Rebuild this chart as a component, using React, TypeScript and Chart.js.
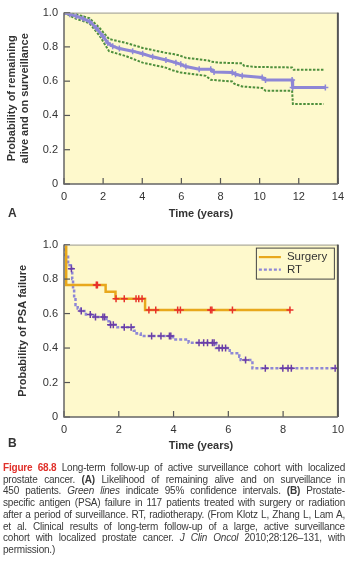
import React, { useEffect, useRef } from "react";
import { Chart, registerables } from "chart.js";

Chart.register(...registerables);

// ---------- Panel A data ----------
const xTicksA = [0, 2, 4, 6, 8, 10, 12, 14];
const yTicks = [0, 0.2, 0.4, 0.6, 0.8, 1.0];

const mainX = [0, 0.3, 0.63, 0.97, 1.31, 1.65, 1.99, 2.24, 2.49, 2.83, 3.51, 4.02, 4.53, 5.21, 5.72, 5.97, 6.23, 6.91, 7.5, 7.67, 8.6, 8.77, 9.11, 10.13, 10.3, 11.66, 11.69, 13.36];
const mainY = [1.0, 0.99, 0.978, 0.965, 0.948, 0.91, 0.862, 0.823, 0.804, 0.79, 0.775, 0.76, 0.742, 0.723, 0.708, 0.698, 0.685, 0.669, 0.669, 0.654, 0.65, 0.64, 0.631, 0.621, 0.607, 0.607, 0.563, 0.563];

const upX = [0, 0.63, 1.3, 1.82, 2.3, 3.17, 4.02, 5.2, 5.6, 5.9, 6.23, 7.4, 7.5, 7.93, 9.1, 9.2, 9.8, 11.66, 11.74, 13.27];
const upY = [1.0, 0.99, 0.967, 0.91, 0.846, 0.823, 0.794, 0.765, 0.758, 0.75, 0.736, 0.72, 0.714, 0.708, 0.704, 0.69, 0.683, 0.68, 0.666, 0.666];

const loX = [0, 0.63, 1.3, 1.82, 2.3, 3.17, 4.02, 5.2, 5.5, 5.97, 7.25, 7.5, 8.6, 8.7, 9.1, 10.13, 10.3, 11.66, 11.7, 13.27];
const loY = [1.0, 0.963, 0.938, 0.865, 0.775, 0.746, 0.708, 0.679, 0.665, 0.65, 0.631, 0.608, 0.598, 0.585, 0.569, 0.56, 0.544, 0.544, 0.467, 0.467];

// ---------- Panel B data ----------
const xTicksB = [0, 2, 4, 6, 8, 10];
const seriesNamesB = ["Surgery", "RT"];

const surgX = [0, 0.08, 1.52, 1.88, 2.96, 8.27];
const surgY = [1.0, 0.765, 0.727, 0.686, 0.62, 0.62];
const surgCX = [1.18, 1.22, 1.9, 2.2, 2.63, 2.73, 2.85, 3.1, 3.35, 4.15, 4.25, 5.35, 5.4, 6.15, 8.25];
const surgCY = [0.765, 0.765, 0.686, 0.686, 0.686, 0.686, 0.686, 0.62, 0.62, 0.62, 0.62, 0.62, 0.62, 0.62, 0.62];

const rtX = [0, 0.05, 0.15, 0.25, 0.3, 0.33, 0.37, 0.42, 0.5, 0.6, 0.8, 1.1, 1.55, 1.65, 1.95, 2.55, 2.65, 2.8, 3.98, 4.55, 5.55, 6.05, 6.4, 6.45, 6.88, 9.95];
const rtY = [1.0, 0.93, 0.88, 0.86, 0.8, 0.74, 0.69, 0.65, 0.63, 0.615, 0.595, 0.58, 0.555, 0.535, 0.52, 0.5, 0.485, 0.47, 0.45, 0.43, 0.4, 0.37, 0.35, 0.33, 0.283, 0.283];
const rtCX = [0.27, 0.63, 0.96, 1.15, 1.42, 1.48, 1.7, 1.8, 2.2, 2.45, 3.2, 3.54, 3.85, 3.9, 4.93, 5.1, 5.24, 5.42, 5.48, 5.66, 5.78, 5.9, 6.63, 7.35, 7.99, 8.18, 8.3, 9.9];
const rtCY = [0.86, 0.615, 0.595, 0.58, 0.58, 0.58, 0.535, 0.535, 0.52, 0.52, 0.47, 0.47, 0.47, 0.47, 0.43, 0.43, 0.43, 0.43, 0.43, 0.4, 0.4, 0.4, 0.33, 0.283, 0.283, 0.283, 0.283, 0.283];

// ---------- styles ----------
const FONT = "'Liberation Sans', Arial, Helvetica, sans-serif";
const PLOT_BG = "#fef9cc";
const PURPLE = "#8e87d6";
const GREEN = "#4e8f3c";
const ORANGE = "#e8a81c";
const RED = "#e8312b";
const DARK_PURPLE = "#6a3ea6";
const TEXT = "#333333";

const pts = (xs: number[], ys: number[]) => xs.map((x, i) => ({ x, y: ys[i] }));

const framePlugin = {
  id: "frame",
  beforeDatasetsDraw(chart: any) {
    const { ctx, chartArea: a } = chart;
    ctx.save();
    ctx.fillStyle = PLOT_BG;
    ctx.fillRect(a.left, a.top, a.right - a.left, a.bottom - a.top);
    ctx.restore();
  },
  afterDatasetsDraw(chart: any) {
    const { ctx, chartArea: a } = chart;
    ctx.save();
    ctx.strokeStyle = "#555";
    ctx.lineWidth = 1.2;
    const xs = chart.scales.x;
    const ys = chart.scales.y;
    xs.ticks.forEach((t: any) => {
      const px = xs.getPixelForValue(t.value);
      ctx.beginPath();
      ctx.moveTo(px, a.bottom);
      ctx.lineTo(px, a.bottom - 6);
      ctx.stroke();
    });
    ys.ticks.forEach((t: any) => {
      const py = ys.getPixelForValue(t.value);
      ctx.beginPath();
      ctx.moveTo(a.left, py);
      ctx.lineTo(a.left + 6, py);
      ctx.stroke();
    });
    ctx.strokeStyle = "#999";
    ctx.lineWidth = 1;
    ctx.beginPath();
    ctx.moveTo(a.left, a.top + 0.5);
    ctx.lineTo(a.right, a.top + 0.5);
    ctx.stroke();
    ctx.strokeStyle = "#555";
    ctx.lineWidth = 2;
    ctx.beginPath();
    ctx.moveTo(a.right, a.top);
    ctx.lineTo(a.right, a.bottom);
    ctx.stroke();
    ctx.strokeStyle = "#666";
    ctx.lineWidth = 1.5;
    ctx.beginPath();
    ctx.moveTo(a.left, a.top);
    ctx.lineTo(a.left, a.bottom);
    ctx.lineTo(a.right, a.bottom);
    ctx.stroke();
    ctx.restore();
  },
};

const boxLegendPlugin = {
  id: "boxLegend",
  afterDraw(chart: any) {
    const opts = chart.options.plugins.boxLegend;
    if (!opts || !opts.display) return;
    const { ctx, chartArea: a } = chart;
    const items = chart.data.datasets.filter((d: any) => d.inLegend);
    const x0 = a.right - 82;
    const y0 = a.top + 3;
    const w = 78;
    const h = 31;
    ctx.save();
    ctx.fillStyle = PLOT_BG;
    ctx.fillRect(x0, y0, w, h);
    ctx.strokeStyle = "#444";
    ctx.lineWidth = 1;
    ctx.strokeRect(x0 + 0.5, y0 + 0.5, w, h);
    items.forEach((d: any, i: number) => {
      const cy = y0 + 9.5 + i * 12.5;
      ctx.strokeStyle = d.borderColor;
      ctx.lineWidth = 2.2;
      ctx.setLineDash(d.borderDash || []);
      ctx.beginPath();
      ctx.moveTo(x0 + 3, cy);
      ctx.lineTo(x0 + 25, cy);
      ctx.stroke();
      ctx.setLineDash([]);
      ctx.fillStyle = TEXT;
      ctx.font = `11.5px ${FONT}`;
      ctx.textBaseline = "middle";
      ctx.textAlign = "left";
      ctx.fillText(d.label, x0 + 31, cy);
    });
    ctx.restore();
  },
};

function makeOptions(
  xMax: number,
  xTicks: number[],
  yTitle: string | string[],
  yTitlePad: number,
  yWidth: number,
  xHeight: number,
  padTop: number,
  padRight: number,
  legend: boolean
): any {
  return {
    responsive: false,
    animation: false,
    events: [],
    layout: { padding: { top: padTop, right: padRight, left: 0, bottom: 0 } },
    plugins: {
      legend: { display: false },
      tooltip: { enabled: false },
      boxLegend: { display: legend },
    },
    scales: {
      x: {
        type: "linear",
        min: 0,
        max: xMax,
        afterBuildTicks: (s: any) => {
          s.ticks = xTicks.map((v) => ({ value: v }));
        },
        afterFit: (s: any) => {
          s.height = xHeight;
        },
        grid: { display: false, drawTicks: false },
        border: { display: false },
        ticks: {
          color: TEXT,
          font: { family: FONT, size: 11 },
          padding: 6,
          maxRotation: 0,
          autoSkip: false,
          callback: (v: any) => String(v),
        },
        title: {
          display: true,
          text: "Time (years)",
          color: TEXT,
          font: { family: FONT, size: 11, weight: "bold" },
          padding: { top: 0, bottom: 4 },
        },
      },
      y: {
        type: "linear",
        min: 0,
        max: 1,
        afterBuildTicks: (s: any) => {
          s.ticks = yTicks.map((v) => ({ value: v }));
        },
        afterFit: (s: any) => {
          s.width = yWidth;
        },
        grid: { display: false, drawTicks: false },
        border: { display: false },
        ticks: {
          color: TEXT,
          font: { family: FONT, size: 11 },
          padding: 6,
          autoSkip: false,
          callback: (v: any) => (v === 0 ? "0" : Number(v).toFixed(1)),
        },
        title: {
          display: true,
          text: yTitle,
          color: TEXT,
          font: { family: FONT, size: 11, weight: "bold", lineHeight: 1.2 },
          padding: { top: yTitlePad, bottom: 0 },
        },
      },
    },
  };
}

function ChartA() {
  const ref = useRef<HTMLCanvasElement | null>(null);
  useEffect(() => {
    const chart = new Chart(ref.current as HTMLCanvasElement, {
      type: "line",
      data: {
        datasets: [
          {
            label: "Remaining on surveillance",
            data: pts(mainX, mainY),
            borderColor: PURPLE,
            backgroundColor: PURPLE,
            borderWidth: 3,
            pointStyle: "cross",
            pointRadius: 3,
            pointBorderWidth: 1.5,
            pointBorderColor: PURPLE,
            tension: 0,
            fill: false,
          },
          {
            label: "Upper 95% CI",
            data: pts(upX, upY),
            borderColor: GREEN,
            borderWidth: 2,
            borderDash: [2.5, 1.5],
            pointRadius: 0,
            fill: false,
          },
          {
            label: "Lower 95% CI",
            data: pts(loX, loY),
            borderColor: GREEN,
            borderWidth: 2,
            borderDash: [2.5, 1.5],
            pointRadius: 0,
            fill: false,
          },
        ],
      } as any,
      options: makeOptions(
        14,
        xTicksA,
        ["Probability of remaining", "alive and on surveillance"],
        5.5,
        64,
        41,
        11,
        10,
        false
      ),
      plugins: [framePlugin],
    });
    return () => chart.destroy();
  }, []);
  return <canvas ref={ref} width={350} height={225} style={{ display: "block" }} />;
}

function ChartB() {
  const ref = useRef<HTMLCanvasElement | null>(null);
  useEffect(() => {
    const chart = new Chart(ref.current as HTMLCanvasElement, {
      type: "line",
      data: {
        datasets: [
          {
            label: "",
            data: pts(surgCX, surgCY),
            showLine: false,
            pointStyle: "cross",
            pointRadius: 3.5,
            pointBorderWidth: 1.5,
            pointBorderColor: RED,
            backgroundColor: RED,
          },
          {
            label: "",
            data: pts(rtCX, rtCY),
            showLine: false,
            pointStyle: "cross",
            pointRadius: 3.5,
            pointBorderWidth: 1.5,
            pointBorderColor: DARK_PURPLE,
            backgroundColor: DARK_PURPLE,
          },
          {
            label: seriesNamesB[0],
            inLegend: true,
            data: pts(surgX, surgY),
            borderColor: ORANGE,
            borderWidth: 2.5,
            stepped: "before",
            pointRadius: 0,
            fill: false,
          },
          {
            label: seriesNamesB[1],
            inLegend: true,
            data: pts(rtX, rtY),
            borderColor: PURPLE,
            borderWidth: 2.5,
            borderDash: [3, 2],
            stepped: "before",
            pointRadius: 0,
            fill: false,
          },
        ],
      } as any,
      options: makeOptions(10, xTicksB, "Probability of PSA failure", 16.5, 64, 40, 10, 11, true),
      plugins: [framePlugin, boxLegendPlugin],
    });
    return () => chart.destroy();
  }, []);
  return <canvas ref={ref} width={350} height={225} style={{ display: "block" }} />;
}

const captionLines: React.ReactNode[] = [
  <>
    <span style={{ color: "#e0302a", fontWeight: "bold" }}>Figure 68.8</span> Long-term follow-up of active surveillance cohort with localized
  </>,
  <>
    prostate cancer. <b>(A)</b> Likelihood of remaining alive and on surveillance in
  </>,
  <>
    450 patients. <i>Green lines</i> indicate 95% confidence intervals. <b>(B)</b> Prostate-
  </>,
  <>specific antigen (PSA) failure in 117 patients treated with surgery or radiation</>,
  <>after a period of surveillance. RT, radiotherapy. (From Klotz L, Zhang L, Lam A,</>,
  <>et al. Clinical results of long-term follow-up of a large, active surveillance</>,
  <>
    cohort with localized prostate cancer. <i>J Clin Oncol</i> 2010;28:126–131, with
  </>,
  <>permission.)</>,
];

export default function App() {
  return (
    <div
      style={{
        position: "absolute",
        left: 0,
        top: 0,
        width: 350,
        height: 565,
        background: "#ffffff",
        fontFamily: FONT,
        overflow: "hidden",
      }}
    >
      <div style={{ position: "absolute", left: 0, top: 0 }}>
        <ChartA />
      </div>
      <div style={{ position: "absolute", left: 8, top: 206, fontWeight: "bold", fontSize: 12, color: TEXT }}>A</div>
      <div style={{ position: "absolute", left: 0, top: 232 }}>
        <ChartB />
      </div>
      <div style={{ position: "absolute", left: 8, top: 436, fontWeight: "bold", fontSize: 12, color: TEXT }}>B</div>
      <div
        style={{
          position: "absolute",
          left: 3,
          top: 462,
          width: 342,
          fontSize: 10,
          lineHeight: "11.7px",
          color: "#3a3a3a",
          letterSpacing: -0.2,
        }}
      >
        {captionLines.map((ln, i) => (
          <div
            key={i}
            style={{
              textAlign: "justify",
              textAlignLast: i < captionLines.length - 1 ? "justify" : "left",
              whiteSpace: "nowrap",
            }}
          >
            {ln}
          </div>
        ))}
      </div>
    </div>
  );
}
